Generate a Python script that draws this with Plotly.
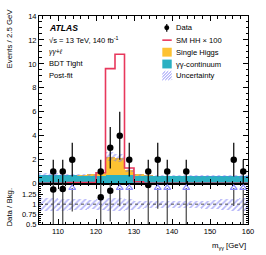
import numpy as np
import plotly.graph_objects as go

# ---------------- data ----------------
bin_lo = 105.0
bin_w = 2.5
n_bins = 22
centers = [bin_lo + bin_w * (i + 0.5) for i in range(n_bins)]
edges = [bin_lo + bin_w * i for i in range(n_bins + 1)]

data_counts = [0, 1, 1, 2, 0, 0, 1, 3, 4, 2, 0, 1, 2, 1, 0, 1, 0, 0, 0, 0, 2, 1]
continuum = [0.735, 0.729, 0.723, 0.717, 0.711, 0.705, 0.699, 0.693, 0.687, 0.681, 0.675,
             0.669, 0.663, 0.657, 0.651, 0.645, 0.639, 0.633, 0.627, 0.621, 0.615, 0.609]
single_higgs = [0, 0, 0, 0, 0.005, 0.03, 0.15, 1.55, 1.42, 0.47, 0.06, 0.005,
                0, 0, 0, 0, 0, 0, 0, 0, 0, 0]
hh_x100 = [0.02, 0.02, 0.02, 0.08, 0.08, 0.08, 0.9, 9.6, 10.8, 1.3, 0.15, 0.03,
           0.03, 0.03, 0.03, 0.03, 0.03, 0.03, 0.03, 0.03, 0.03, 0.03]
rel_unc = [0.17, 0.16, 0.15, 0.14, 0.13, 0.12, 0.13, 0.16, 0.16, 0.13, 0.1, 0.09,
           0.09, 0.08, 0.08, 0.08, 0.09, 0.1, 0.11, 0.13, 0.15, 0.17]

x_tick_vals = [110, 120, 130, 140, 150, 160]
y_tick_vals = [0, 2, 4, 6, 8, 10, 12, 14]
r_tick_vals = [0.5, 0.75, 1, 1.25]
r_tick_text = ["0.5", "0.75", "1", "1.25"]

# ---------------- styling ----------------
RED = "#e8385c"
YEL = "#fdc232"
TEAL = "#2bb0c2"
HATCH = "#6a6af2"
TRI = "#8c8cff"
FONT = "Liberation Sans, Arial, sans-serif"

total = [c + s for c, s in zip(continuum, single_higgs)]
unc = [t * r for t, r in zip(total, rel_unc)]

fig = go.Figure()

hatch_marker = dict(color="rgba(0,0,0,0)", line=dict(width=0),
                    pattern=dict(shape="/", fgcolor=HATCH, bgcolor="rgba(0,0,0,0)",
                                 size=4, solidity=0.4, fillmode="overlay"))

# stacked background
fig.add_trace(go.Bar(x=centers, y=continuum, base=[0] * n_bins, width=bin_w,
                     marker=dict(color=TEAL, line=dict(width=0)), xaxis="x", yaxis="y",
                     showlegend=False))
fig.add_trace(go.Bar(x=centers, y=single_higgs, base=continuum, width=bin_w,
                     marker=dict(color=YEL, line=dict(width=0)), xaxis="x", yaxis="y",
                     showlegend=False))
# uncertainty band (upper)
fig.add_trace(go.Bar(x=centers, y=[2 * u for u in unc], base=[t - u for t, u in zip(total, unc)],
                     width=bin_w, marker=hatch_marker, xaxis="x", yaxis="y", showlegend=False))
# HH x100 step line
fig.add_trace(go.Scatter(x=edges, y=hh_x100 + [hh_x100[-1]], mode="lines", line_shape="hv",
                         line=dict(color=RED, width=1.6), xaxis="x", yaxis="y", showlegend=False))
# data
dx = [c for c, n in zip(centers, data_counts) if n > 0]
dy = [n for n in data_counts if n > 0]
fig.add_trace(go.Scatter(x=dx, y=dy, mode="markers",
                         marker=dict(color="black", size=6.5),
                         error_y=dict(type="data", array=[np.sqrt(n) for n in dy], color="black",
                                      thickness=1.2, width=0),
                         xaxis="x", yaxis="y", showlegend=False, cliponaxis=False))

# ratio panel
r_top = 1.5
fig.add_trace(go.Bar(x=centers, y=[2 * r for r in rel_unc], base=[1 - r for r in rel_unc],
                     width=bin_w, marker=hatch_marker, xaxis="x2", yaxis="y2", showlegend=False))
rx_in, ry_in, re_in = [], [], []
rx_out, ry_out, re_out = [], [], []
tri_y = 1.41
for c, n, t in zip(centers, data_counts, total):
    if n <= 0:
        continue
    r = n / t
    e = np.sqrt(n) / t
    if r <= r_top:
        rx_in.append(c); ry_in.append(r); re_in.append(e)
    else:
        rx_out.append(c); ry_out.append(tri_y); re_out.append(tri_y - (r - e))
fig.add_trace(go.Scatter(x=rx_out, y=ry_out, mode="markers",
                         marker=dict(symbol="triangle-up-open", color=TRI, size=6,
                                     line=dict(width=1.2, color=TRI)),
                         error_y=dict(type="data", symmetric=False, array=[0] * len(rx_out),
                                      arrayminus=re_out, color="#444", thickness=1.2, width=0),
                         xaxis="x2", yaxis="y2", showlegend=False))
fig.add_trace(go.Scatter(x=rx_in, y=ry_in, mode="markers",
                         marker=dict(color="black", size=6.5),
                         error_y=dict(type="data", array=re_in, color="#444", thickness=1.2, width=0),
                         xaxis="x2", yaxis="y2", showlegend=False))

# ---------------- layout ----------------
L, R, T, B = 39, 16, 13, 31
W, H = 266, 255
PW, PH = W - L - R, H - T - B
split = (224 - 183) / PH


def px(p):
    return (p - L) / PW


def py(p):
    return (H - B - p) / PH


axis_common = dict(ticks="inside", showline=True, linecolor="black", linewidth=1,
                   mirror="ticks", tickfont=dict(size=7.5, family=FONT, color="black"),
                   showgrid=False, zeroline=False, tickcolor="black")

fig.update_layout(
    width=W, height=H, margin=dict(l=L, r=R, t=T, b=B), plot_bgcolor="white",
    paper_bgcolor="white", barmode="overlay", bargap=0, showlegend=False,
    font=dict(family=FONT, color="black"),
    xaxis=dict(domain=[0, 1], range=[105, 160], anchor="y", showticklabels=False,
               tickvals=x_tick_vals, ticklen=5,
               minor=dict(dtick=2, ticks="inside", ticklen=2.5, tickcolor="black"),
               **axis_common),
    yaxis=dict(domain=[split, 1], range=[0, 14], anchor="x", tickvals=y_tick_vals,
               ticklen=5, minor=dict(dtick=0.5, ticks="inside", ticklen=2.5, tickcolor="black"),
               **axis_common),
    xaxis2=dict(domain=[0, 1], range=[105, 160], anchor="y2", tickvals=x_tick_vals,
                ticklen=5, matches="x",
                minor=dict(dtick=2, ticks="inside", ticklen=2.5, tickcolor="black"),
                **axis_common),
    yaxis2=dict(domain=[0, split], range=[0.5, 1.52], anchor="x2", tickvals=r_tick_vals,
                ticktext=r_tick_text, ticklen=4,
                minor=dict(dtick=0.05, ticks="inside", ticklen=2, tickcolor="black"),
                **axis_common),
)

shapes = [dict(type="line", xref="x2", yref="y2", x0=105, x1=160, y0=1, y1=1,
               line=dict(color="#555", width=1, dash="dot"))]

ann = []
ann.append(dict(text="Events / 2.5 GeV", textangle=-90, xref="paper", yref="paper",
                x=px(9), y=py(3), xanchor="center", yanchor="top", showarrow=False,
                font=dict(size=7.8)))
ann.append(dict(text="Data / Bkg.", textangle=-90, xref="paper", yref="paper",
                x=px(9), y=py(207), xanchor="center", yanchor="middle", showarrow=False,
                font=dict(size=7.8)))
ann.append(dict(text="m<sub>γγ</sub> [GeV]", xref="paper", yref="paper", x=1, y=py(246),
                xanchor="right", yanchor="middle", showarrow=False, font=dict(size=7.8)))

left_lines = [("<b><i>ATLAS</i></b>", 25, 8.6), ("√s = 13 TeV, 140 fb<sup>-1</sup>", 37.3, 7.6),
              ("<i>γγ+ℓ</i>", 49.3, 6.8), ("BDT Tight", 61.5, 7.6), ("Post-fit", 73.3, 7.6)]
for t, yy, fs in left_lines:
    ann.append(dict(text=t, xref="paper", yref="paper", x=px(47), y=py(yy), xanchor="left",
                    yanchor="middle", showarrow=False, font=dict(size=fs)))

leg_labels = ["Data", "SM HH × 100", "Single Higgs", "γγ-continuum", "Uncertainty"]
leg_y = [25, 37.5, 49.7, 61.7, 73.5]
for t, yy in zip(leg_labels, leg_y):
    ann.append(dict(text=t, xref="paper", yref="paper", x=px(175), y=py(yy), xanchor="left",
                    yanchor="middle", showarrow=False, font=dict(size=7.6)))

lx0, lx1 = 163.5, 173
# data symbol
shapes.append(dict(type="line", xref="paper", yref="paper", x0=px(168), x1=px(168),
                   y0=py(21), y1=py(29), line=dict(color="black", width=1.2)))
shapes.append(dict(type="circle", xref="paper", yref="paper", x0=px(165.5), x1=px(170.5),
                   y0=py(22.5), y1=py(27.5), fillcolor="black", line=dict(width=0)))
# HH line
shapes.append(dict(type="line", xref="paper", yref="paper", x0=px(lx0), x1=px(lx1),
                   y0=py(37.5), y1=py(37.5), line=dict(color=RED, width=1.6)))
# boxes
for col, yy in [(YEL, 49.7), (TEAL, 61.7)]:
    shapes.append(dict(type="rect", xref="paper", yref="paper", x0=px(lx0), x1=px(lx1),
                       y0=py(yy - 4.5), y1=py(yy + 4.5), fillcolor=col, line=dict(width=0)))
# hatched uncertainty box
yy = 73.5
for k in range(-3, 4):
    xa = lx0 + k * 3
    x0, y0 = xa, yy + 4.5
    x1, y1 = xa + 9, yy - 4.5
    if x0 < lx0:
        y0 -= (lx0 - x0); x0 = lx0
    if x1 > lx1:
        y1 += (x1 - lx1); x1 = lx1
    if x1 <= x0:
        continue
    shapes.append(dict(type="line", xref="paper", yref="paper", x0=px(x0), x1=px(x1),
                       y0=py(y0), y1=py(y1), line=dict(color=HATCH, width=0.8)))

fig.update_layout(shapes=shapes, annotations=ann)
fig.write_html("out.html", config={"displayModeBar": False},
               post_script="document.body.style.margin='0px';document.body.style.padding='0px';"
                           "document.body.style.overflow='hidden';")
